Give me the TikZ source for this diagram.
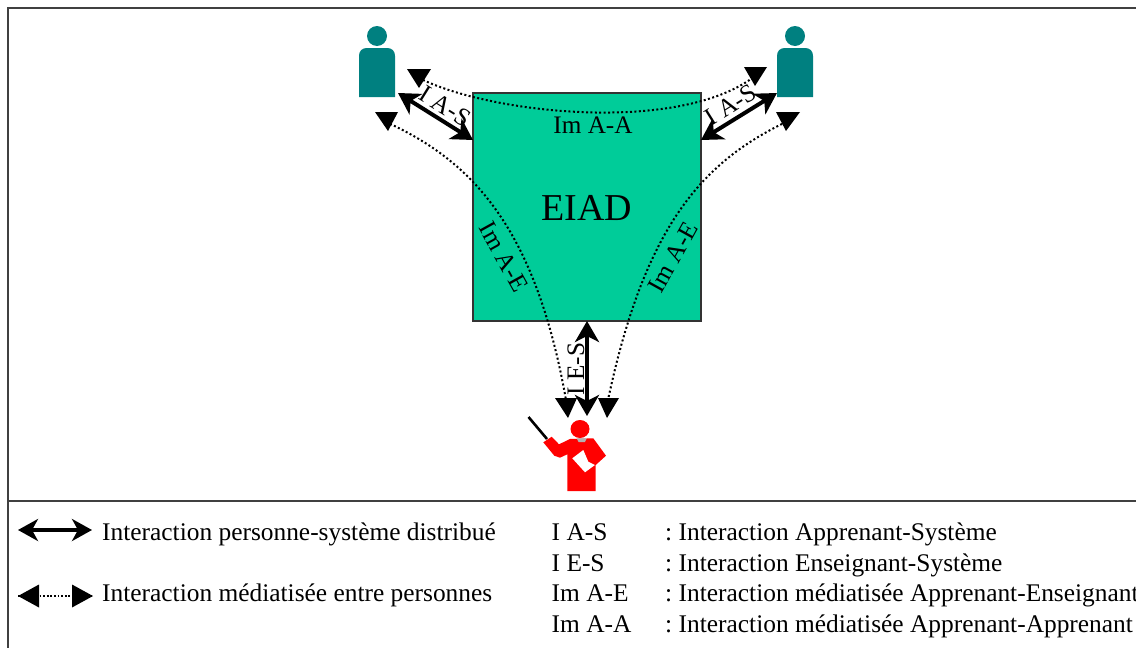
\documentclass[tikz,border=0pt]{standalone}
\usepackage{fontspec}
\setmainfont{Liberation Serif}
\usetikzlibrary{arrows.meta}
\tikzset{
  x=1pt,y=-1pt,
  frameline/.style={draw=black!75,line width=1.2pt},
  thickarrow/.style={{Stealth[length=21pt,width=24pt,inset=6pt]}-{Stealth[length=21pt,width=24pt,inset=6pt]},line width=4pt,black},
  medline/.style={black,line width=2pt,dash pattern=on 2pt off 2.4pt},
  tri/.style={fill=black,draw=none},
  lab/.style={inner sep=0pt,font=\fontsize{25.2}{27}\selectfont},
  leg/.style={inner sep=0pt,anchor=base west,font=\fontsize{25.4}{27}\selectfont},
  teal/.style={fill=personteal,draw=none},
  red/.style={fill=red,draw=none}
}
\definecolor{personteal}{HTML}{008080}
\definecolor{boxgreen}{HTML}{00CC99}
\begin{document}
\begin{tikzpicture}
\useasboundingbox (0,0) rectangle (1136,648);
\fill[white] (0,0) rectangle (1136,648);
% frame
\draw[frameline] (8,648) -- (8,8) -- (1136,8);
\draw[frameline] (8,501) -- (1136,501);
% central box
\node[draw=black!80,line width=1.2pt,fill=boxgreen,minimum width=228pt,minimum height=228pt,inner sep=0pt] (eiad) at (587,207) {};
\node[lab,font=\fontsize{38}{40}\selectfont] (eiadt) at (587,208) {EIAD};
\node[lab] (imaa) at (593,125) {Im A-A};
% anchors
\coordinate (l1) at (419,78);
\coordinate (l2) at (386,122);
\coordinate (r1) at (755,76);
\coordinate (r2) at (786,122);
\coordinate (b1) at (566,400);
\coordinate (b2) at (608,400);
\coordinate (ph) at (587,416);
\coordinate (sl) at (398,93);
\coordinate (sr) at (777,93);
\coordinate (bl) at (473,140);
\coordinate (br) at (701,140);
\coordinate (bb) at (587,321);
% dotted curves
\draw[medline] (l1) .. controls (490,114) and (680,134) .. (r1);
\draw[medline] (l2) .. controls (470,160) and (535,225) .. (b1);
\draw[medline] (r2) .. controls (703,162) and (645,225) .. (b2);
% thick arrows
\draw[thickarrow] (sl) -- (bl);
\draw[thickarrow] (sr) -- (br);
\draw[thickarrow] (bb) -- (ph);
% triangles
\fill[tri] (407,69) -- (431,69) -- (419,88) -- cycle;
\fill[tri] (375,112) -- (398,112) -- (388,131) -- cycle;
\fill[tri] (744,67) -- (767,67) -- (755,86) -- cycle;
\fill[tri] (776,112) -- (800,112) -- (786,131) -- cycle;
\fill[tri] (555,398) -- (577,398) -- (568,418) -- cycle;
\fill[tri] (598,398) -- (619,398) -- (607,418) -- cycle;
% labels on arrows
\node[lab,rotate=-32] (ias1) at (445,106) {I A-S};
\node[lab,rotate=32] (ias2) at (731,105) {I A-S};
\node[lab,rotate=-61] (ime1) at (504,257) {Im A-E};
\node[lab,rotate=61] (ime2) at (673,257) {Im A-E};
\node[lab,rotate=90] (ies) at (576,369) {I E-S};
% persons
\fill[teal] (377,36) circle (10);
\fill[teal] (359,97) -- (359,56) .. controls (359,51) and (362,48) .. (367,48) -- (387,48) .. controls (392,48) and (395,51) .. (395,56) -- (395,97) -- cycle;
\fill[teal] (795,36) circle (10);
\fill[teal] (777,97) -- (777,56) .. controls (777,51) and (780,48) .. (785,48) -- (805,48) .. controls (810,48) and (813,51) .. (813,56) -- (813,97) -- cycle;
% teacher
\draw[black,line width=2.6pt] (528.5,417) -- (547,439);
\fill[red] (580,429) ellipse (9.5 and 9);
\fill[red] (567.3,491) -- (567.3,454.3) -- (560,457.7) -- (554.3,455.7) -- (543.3,442.3) -- (551.7,436.7) -- (559,444.3) -- (570,439) -- (593.3,438.3) -- (606,455.7) -- (595.7,465) -- (595.7,491) -- cycle;
\fill[gray!60] (576.7,438.3) -- (586.7,438.3) -- (585,442) -- (578.5,442) -- cycle;
\fill[white] (572.3,458.3) -- (583.3,450) -- (588.3,461.7) -- (595,465) -- (585,472.3) -- cycle;
% legend
\coordinate (la) at (18,530);
\coordinate (lb) at (92,530);
\coordinate (lc) at (18,596);
\coordinate (ld) at (92,596);
\draw[{Stealth[length=20pt,width=22pt,inset=6pt]}-{Stealth[length=20pt,width=22pt,inset=6pt]},line width=3.6pt] (la) -- (lb);
\draw[line width=1.8pt,dash pattern=on 1.8pt off 1.8pt] (lc) -- (ld);
\fill[tri] (18,596) -- (39,584.5) -- (39,607.5) -- cycle;
\fill[tri] (93,596) -- (72,584.5) -- (72,607.5) -- cycle;
\node[leg] (t1) at (102,540) {Interaction personne-système distribué};
\node[leg] (t2) at (102,601) {Interaction médiatisée entre personnes};
\node[leg] (a1) at (551.5,540) {I A-S};
\node[leg] (a2) at (551.5,571) {I E-S};
\node[leg] (a3) at (551.5,601) {Im A-E};
\node[leg] (a4) at (551.5,632) {Im A-A};
\node[leg] (b1t) at (665,540) {:\hspace{-2pt} Interaction Apprenant-Système};
\node[leg] (b2t) at (665,571) {:\hspace{-2pt} Interaction Enseignant-Système};
\node[leg] (b3t) at (665,601) {:\hspace{-2pt} Interaction médiatisée Apprenant-Enseignant};
\node[leg] (b4t) at (665,632) {:\hspace{-2pt} Interaction médiatisée Apprenant-Apprenant};
\end{tikzpicture}
\end{document}
